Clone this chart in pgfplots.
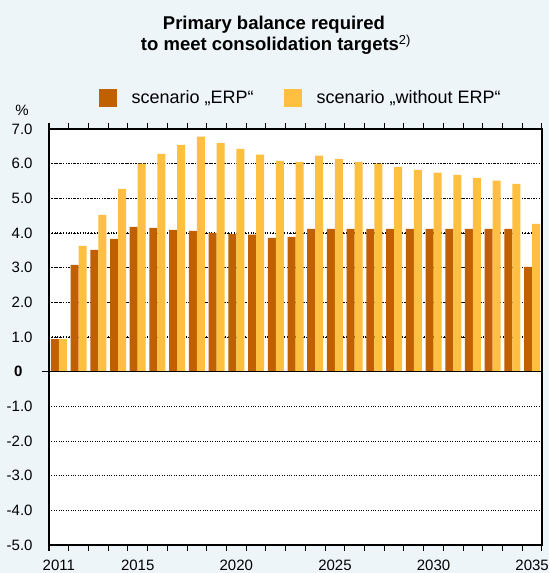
\documentclass[border=0pt]{standalone}
\usepackage{pgfplots}
\pgfplotsset{compat=1.18}
\usepackage{fontspec}
\setmainfont{Liberation Sans}
\definecolor{bg}{HTML}{EDF5F9}
\definecolor{erp}{HTML}{C06000}
\definecolor{noerp}{HTML}{FFBF40}

\begin{document}
\fontsize{15}{18}\selectfont
\begin{tikzpicture}
\path[use as bounding box, fill=bg] (0,0) rectangle (549pt,573pt);
\begin{axis}[
    at={(49pt,28pt)}, anchor=south west,
    scale only axis, width=493pt, height=416pt,
    axis background/.style={fill=white},
    clip=false,
    xmin=2010.5, xmax=2035.5, ymin=-5, ymax=7,
    ybar=0pt, bar width=8pt,
    ytick={-5,...,7},
    yticklabels={-5.0,-4.0,-3.0,-2.0,-1.0,\textbf{0}\hspace*{10pt},1.0,2.0,3.0,4.0,5.0,6.0,7.0},
    ytick style={draw=none},
    yticklabel style={xshift=-7pt},
    ymajorgrids, grid style={black, dotted, line width=0.8pt},
    extra y ticks={1,2,3,4,5,6},
    extra y tick labels={},
    extra y tick style={grid style={black, dotted, line width=1.5pt}},
    xtick={2011,2015,2020,2025,2030,2035},
    xticklabels={2011,2015,2020,2025,2030,2035},
    major x tick style={draw=none},
    minor xtick={2010.5,2011.5,...,2035.5},
    minor x tick style={black, line width=1pt},
    tick align=outside, minor tick length=6pt,
    xticklabel style={yshift=-6pt},
    axis line style={black, line width=1.5pt},
    legend columns=2,
    legend style={draw=none, fill=none, inner sep=0pt, at={(0.1,1.075)}, anchor=west,
        font=\fontsize{18}{21}\selectfont,
        /tikz/every odd column/.append style={column sep=13pt},
        /tikz/every even column/.append style={column sep=28pt}},
]
\addplot[fill=erp, draw=none, legend image code/.code={\fill[erp] (0pt,-9pt) rectangle (18pt,9pt);}] coordinates {
    (2011,0.94) (2012,3.08) (2013,3.51) (2014,3.83) (2015,4.18)
    (2016,4.15) (2017,4.09) (2018,4.06) (2019,4.00) (2020,3.97)
    (2021,3.95) (2022,3.86) (2023,3.89) (2024,4.12) (2025,4.12)
    (2026,4.12) (2027,4.12) (2028,4.12) (2029,4.12) (2030,4.12)
    (2031,4.12) (2032,4.12) (2033,4.12) (2034,4.12) (2035,3.02)
};
\addplot[fill=noerp, draw=none, legend image code/.code={\fill[noerp] (0pt,-9pt) rectangle (18pt,9pt);}] coordinates {
    (2011,0.94) (2012,3.63) (2013,4.52) (2014,5.27) (2015,6.00)
    (2016,6.28) (2017,6.54) (2018,6.78) (2019,6.60) (2020,6.43)
    (2021,6.26) (2022,6.08) (2023,6.05) (2024,6.23) (2025,6.14)
    (2026,6.05) (2027,6.00) (2028,5.91) (2029,5.82) (2030,5.74)
    (2031,5.68) (2032,5.59) (2033,5.51) (2034,5.42) (2035,4.26)
};
\legend{scenario „ERP“, scenario „without ERP“}
\draw[black, line width=1.5pt] ([xshift=-7pt]axis cs:2010.5,0) -- (axis cs:2035.5,0);
\end{axis}
\node[font=\fontsize{18.5}{22}\bfseries, anchor=base] at (274pt,543pt) {Primary balance required};
\node[font=\fontsize{18.5}{22}\bfseries, anchor=base] at (276pt,522pt) {to meet consolidation targets\textsuperscript{\mdseries 2)}};
\node[anchor=base] at (22pt,457pt) {\%};
\end{tikzpicture}
\end{document}
